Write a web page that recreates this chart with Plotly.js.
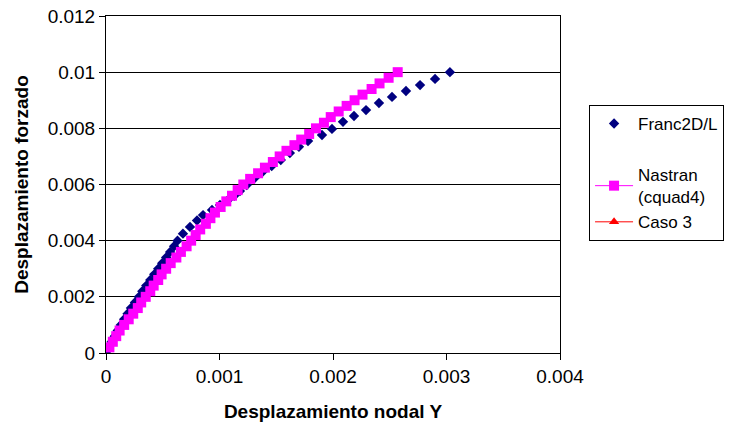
<!DOCTYPE html>
<html>
<head>
<meta charset="utf-8">
<script src="https://cdn.plot.ly/plotly-3.0.1.min.js"></script>
<style>html,body{margin:0;padding:0;background:#fff;}#chart{width:736px;height:427px;}</style>
</head>
<body>
<div id="chart"></div>
<script>
// Franc2D/L series
const francX = [0, 0.000025, 0.00005, 0.000077, 0.000103, 0.00013, 0.00016, 0.00019, 0.00022, 0.000255,
  0.00029, 0.00032, 0.000355, 0.00039, 0.000425, 0.00046, 0.000495, 0.00053, 0.000565, 0.0006,
  0.00063, 0.000678, 0.00074, 0.000802, 0.000855, 0.000934, 0.001004, 0.001075, 0.00113, 0.00118,
  0.00124, 0.00131, 0.00138, 0.00146, 0.00154, 0.00162, 0.0017, 0.00178, 0.001903, 0.001991,
  0.002088, 0.002185, 0.002291, 0.002405, 0.00252, 0.002643, 0.002767, 0.002899, 0.00303];
const francY = [0, 0.0002, 0.0004, 0.0006, 0.0008, 0.001, 0.0012, 0.0014, 0.0016, 0.0018,
  0.002, 0.0022, 0.0024, 0.0026, 0.0028, 0.003, 0.0032, 0.0034, 0.0036, 0.0038,
  0.004, 0.00425, 0.00449, 0.00472, 0.00491, 0.00509, 0.00527, 0.00545, 0.0056, 0.00577,
  0.00598, 0.00623, 0.00645, 0.00666, 0.00687, 0.00712, 0.00734, 0.00755, 0.00776, 0.00798,
  0.00823, 0.00844, 0.00865, 0.0089, 0.00912, 0.00933, 0.00954, 0.00976, 0.01];

// Nastran (cquad4) series
const nastranX = [0.00003, 0.00006, 0.00009, 0.00012, 0.00016, 0.0002, 0.00024, 0.00028, 0.00031, 0.00035,
  0.00039, 0.00042, 0.00046, 0.00049, 0.00053, 0.00057, 0.00062, 0.00066, 0.00071, 0.00075,
  0.00079, 0.00083, 0.00088, 0.00092, 0.00096, 0.00101, 0.00106, 0.00111, 0.00116, 0.00121,
  0.00127, 0.00134, 0.0014, 0.00147, 0.00153, 0.00159, 0.00166, 0.00172, 0.00179, 0.00185,
  0.00192, 0.00198, 0.00205, 0.00212, 0.00219, 0.00226, 0.00234, 0.00241, 0.00249, 0.00257];
const nastranY = [0.0002, 0.0004, 0.0006, 0.0008, 0.001, 0.0012, 0.0014, 0.0016, 0.0018, 0.002,
  0.0022, 0.0024, 0.0026, 0.0028, 0.003, 0.0032, 0.0034, 0.0036, 0.0038, 0.004,
  0.0042, 0.0044, 0.0046, 0.0048, 0.005, 0.0052, 0.0054, 0.0056, 0.0058, 0.006,
  0.0062, 0.0064, 0.0066, 0.0068, 0.007, 0.0072, 0.0074, 0.0076, 0.0078, 0.008,
  0.0082, 0.0084, 0.0086, 0.0088, 0.009, 0.0092, 0.0094, 0.0096, 0.0098, 0.01];

// Caso 3 series (no visible points)
const casoX = [null];
const casoY = [null];

// Tick labels
const xTickVals = [0, 0.001, 0.002, 0.003, 0.004];
const xTickText = ["0", "0.001", "0.002", "0.003", "0.004"];
const yTickVals = [0, 0.002, 0.004, 0.006, 0.008, 0.01, 0.012];
const yTickText = ["0", "0.002", "0.004", "0.006", "0.008", "0.01", "0.012"];

const FONT = "Liberation Sans, Arial, sans-serif";

const traces = [
  {x: francX, y: francY, name: "Franc2D/L", type: "scatter", mode: "markers",
   legendgroup: "a",
   marker: {symbol: "diamond", size: 8, color: "#000080"}},
  {x: nastranX, y: nastranY, name: "Nastran<br>(cquad4)", type: "scatter", mode: "lines+markers",
   legendgroup: "b",
   line: {color: "#FF00FF", width: 1},
   marker: {symbol: "square", size: 10, color: "#FF00FF"}},
  {x: casoX, y: casoY, name: "Caso 3", type: "scatter", mode: "lines+markers",
   legendgroup: "b",
   line: {color: "#FF0000", width: 1},
   marker: {symbol: "triangle-up", size: 9, color: "#FF0000"}}
];

const layout = {
  width: 736, height: 427,
  margin: {l: 106, r: 176, t: 16, b: 74, pad: 0},
  paper_bgcolor: "#ffffff",
  plot_bgcolor: "#ffffff",
  font: {family: FONT, size: 19, color: "#000000"},
  showlegend: true,
  legend: {
    x: 1.064, xanchor: "left", y: 0.736, yanchor: "top",
    bordercolor: "#000000", borderwidth: 1, bgcolor: "#ffffff",
    font: {family: FONT, size: 17, color: "#000000"},
    tracegroupgap: 26, valign: "middle", itemwidth: 38
  },
  xaxis: {
    range: [0, 0.004], tickvals: xTickVals, ticktext: xTickText,
    ticks: "outside", ticklen: 6, tickcolor: "#000000", tickwidth: 1,
    showline: true, linecolor: "#000000", linewidth: 1, mirror: true,
    showgrid: false, zeroline: false,
    tickfont: {family: FONT, size: 19, color: "#000000"},
    title: {text: "Desplazamiento nodal Y", standoff: 18,
            font: {family: FONT, size: 19, color: "#000000", weight: "bold"}}
  },
  yaxis: {
    range: [0, 0.012], tickvals: yTickVals, ticktext: yTickText,
    ticks: "outside", ticklen: 6, tickcolor: "#000000", tickwidth: 1,
    showline: true, linecolor: "#000000", linewidth: 1, mirror: true,
    showgrid: true, gridcolor: "#000000", gridwidth: 1, zeroline: false,
    tickfont: {family: FONT, size: 19, color: "#000000"},
    title: {text: "Desplazamiento forzado", standoff: 14,
            font: {family: FONT, size: 19, color: "#000000", weight: "bold"}}
  }
};

Plotly.newPlot("chart", traces, layout, {displayModeBar: false, staticPlot: true});
</script>
</body>
</html>
